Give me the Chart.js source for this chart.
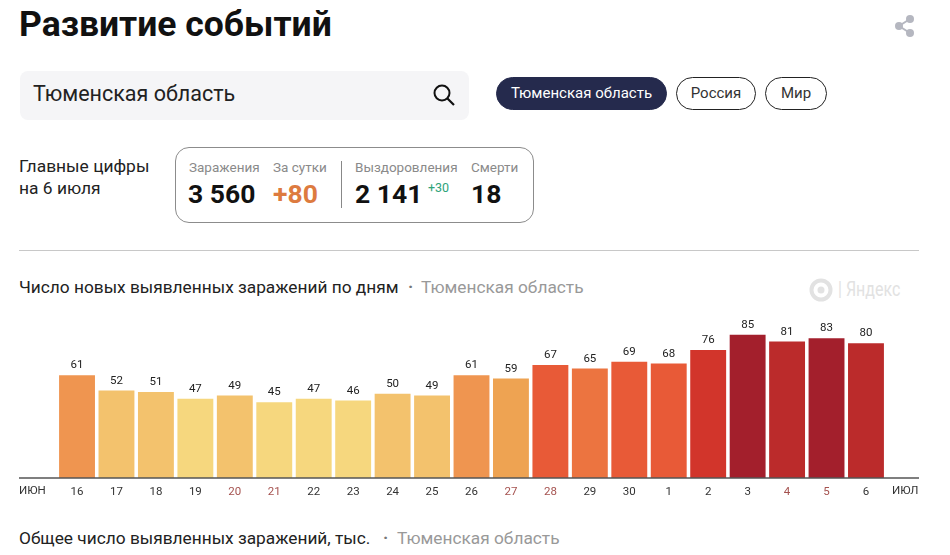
<!DOCTYPE html>
<html>
<head>
<meta charset="UTF-8">
<title>Развитие событий</title>
<style>
  html, body { margin: 0; padding: 0; background: #fff; }
  body { width: 950px; height: 555px; overflow: hidden; position: relative; font-family: Roboto, sans-serif; color: #111; }
  .t { position: absolute; white-space: nowrap; line-height: 1; }
  .box { position: absolute; box-sizing: border-box; }
  .pill { position: absolute; box-sizing: border-box; top: 77px; height: 33px; border-radius: 17px; border: 1px solid #222; font-size: 15px; line-height: 31px; text-align: center; color: #333; }
  .lab { font-size: 13.5px; color: #8a8a8a; top: 161px; }
  .num { font-size: 26.5px; font-weight: 700; top: 181px; }
  .head { font-size: 17.3px; color: #222; }
  .grey { color: #999; }
  .dot { color: #777; font-weight: 700; }
  #wrap { position: absolute; left: 0; top: 300px; width: 950px; height: 205px; }
  #cases-chart { display: block; }
</style>
<script src="https://cdn.jsdelivr.net/npm/chart.js@4"></script>
</head>
<body>
  <div class="t" style="left:19px;top:7px;font-size:35.5px;font-weight:700">Развитие событий</div>
  <svg class="box" style="left:894px;top:14px" width="22" height="24" viewBox="0 0 22 24">
    <path d="M16 5 L5 12 L16 19" fill="none" stroke="#b5b7c0" stroke-width="2"/>
    <circle cx="16" cy="5" r="4" fill="#b5b7c0"/><circle cx="5" cy="12" r="4" fill="#b5b7c0"/><circle cx="16" cy="19" r="4" fill="#b5b7c0"/>
  </svg>

  <!-- Search -->
  <div class="box" style="left:20px;top:71px;width:449px;height:49px;background:#f5f5f7;border-radius:8px"></div>
  <div class="t" style="left:33px;top:83px;font-size:21.5px;color:#222">Тюменская область</div>
  <svg class="box" style="left:432px;top:83px" width="24" height="24" viewBox="0 0 24 24">
    <circle cx="10" cy="10" r="7.5" fill="none" stroke="#111" stroke-width="2"/><path d="M15.5 15.5 L22 22" stroke="#111" stroke-width="2.2"/>
  </svg>
  <div class="pill" style="left:496px;width:171px;background:#252a4d;border-color:#252a4d;color:#fff">Тюменская область</div>
  <div class="pill" style="left:676px;width:80px">Россия</div>
  <div class="pill" style="left:765px;width:62px">Мир</div>

  <!-- Main numbers -->
  <div class="t" style="left:19px;top:158px;font-size:17.4px;color:#222">Главные цифры</div>
  <div class="t" style="left:19px;top:180px;font-size:17.4px;color:#222">на 6 июля</div>
  <div class="box" style="left:175px;top:147px;width:359px;height:76px;border:1px solid #8c8c8c;border-radius:14px"></div>
  <div class="t lab" style="left:189px">Заражения</div>
  <div class="t lab" style="left:273px">За сутки</div>
  <div class="t lab" style="left:355px">Выздоровления</div>
  <div class="t lab" style="left:471px">Смерти</div>
  <div class="t num" style="left:188px">3 560</div>
  <div class="t num" style="left:273px;color:#dd7b3f">+80</div>
  <div class="t num" style="left:355px">2 141</div>
  <div class="t" style="left:428px;top:182px;font-size:12.5px;color:#2fa37a">+30</div>
  <div class="t num" style="left:471px">18</div>
  <div class="box" style="left:341px;top:161px;width:1px;height:47px;background:#888"></div>
  <div class="box" style="left:19px;top:250px;width:900px;height:1px;background:#c8c8c8"></div>

  <!-- Chart heading -->
  <div class="t head" style="left:19px;top:279px">Число новых выявленных заражений по дням</div>
  <div class="t head dot" style="left:408px;top:279px">·</div>
  <div class="t head grey" style="left:421px;top:279px">Тюменская область</div>
  <svg class="box" style="left:809px;top:278px" width="24" height="24" viewBox="0 0 24 24">
    <circle cx="12" cy="12" r="9.5" fill="none" stroke="#e2e2e2" stroke-width="4"/><circle cx="12" cy="12" r="3.5" fill="#e2e2e2"/>
  </svg>
  <div class="t" style="left:838px;top:279px;font-size:20px;color:#e2e2e2;transform:scaleX(.8);transform-origin:left top">| Яндекс</div>

  <div id="wrap"><canvas id="cases-chart" width="950" height="205"></canvas></div>

  <div class="t" style="left:19px;top:485px;font-size:11.5px;color:#333">ИЮН</div>
  <div class="t" style="left:892px;top:485px;font-size:11.5px;color:#333">ИЮЛ</div>

  <div class="t head" style="left:19px;top:530px">Общее число выявленных заражений, тыс.</div>
  <div class="t head dot" style="left:383px;top:530px">·</div>
  <div class="t head grey" style="left:397px;top:530px">Тюменская область</div>

  <script>
    const days = ["16","17","18","19","20","21","22","23","24","25","26","27","28","29","30","1","2","3","4","5","6"];
    const newCases = [61,52,51,47,49,45,47,46,50,49,61,59,67,65,69,68,76,85,81,83,80];
    const weekendDays = ["20","21","27","28","4","5"];

    // bar colour depends on the value
    function barColour(v) {
      if (v >= 83) return "#a31f2c";
      if (v >= 80) return "#bb2b2b";
      if (v >= 76) return "#d2352b";
      if (v >= 67) return "#e85a37";
      if (v >= 65) return "#ec7440";
      if (v >= 61) return "#ef9550";
      if (v >= 59) return "#eea352";
      if (v >= 49) return "#f3c26d";
      return "#f6d77e";
    }

    // Numbers over the bars and the long baseline
    const barExtras = {
      id: "barExtras",
      afterDatasetsDraw(chart) {
        const ctx = chart.ctx, x = chart.scales.x, y = chart.scales.y;
        ctx.save();
        ctx.fillStyle = "#222";
        ctx.font = "11.5px Roboto";
        ctx.textAlign = "center";
        ctx.textBaseline = "bottom";
        newCases.forEach((v, i) => ctx.fillText(v, x.getPixelForValue(i), y.getPixelForValue(v) - 4));
        ctx.strokeStyle = "#555";
        ctx.lineWidth = 1.5;
        ctx.beginPath();
        ctx.moveTo(19, y.getPixelForValue(0));
        ctx.lineTo(919, y.getPixelForValue(0));
        ctx.stroke();
        ctx.restore();
      }
    };

    new Chart(document.getElementById("cases-chart"), {
      type: "bar",
      data: {
        labels: days,
        datasets: [{
          data: newCases,
          backgroundColor: newCases.map(barColour),
          barPercentage: 0.91,
          categoryPercentage: 1
        }]
      },
      options: {
        responsive: false,
        animation: false,
        layout: { padding: { left: 57.3, right: 64.3, top: 9.5, bottom: 0 } },
        plugins: { legend: { display: false }, tooltip: { enabled: false } },
        scales: {
          x: {
            grid: { display: false, drawTicks: false },
            border: { display: false },
            afterFit(scale) { scale.height = 27; },
            ticks: {
              maxRotation: 0,
              autoSkip: false,
              padding: 7,
              font: { family: "Roboto", size: 11.5 },
              color: c => weekendDays.includes(days[c.index]) ? "#a5524f" : "#333"
            }
          },
          y: { display: false, min: 0, max: 100 }
        }
      },
      plugins: [barExtras]
    });
  </script>
</body>
</html>
